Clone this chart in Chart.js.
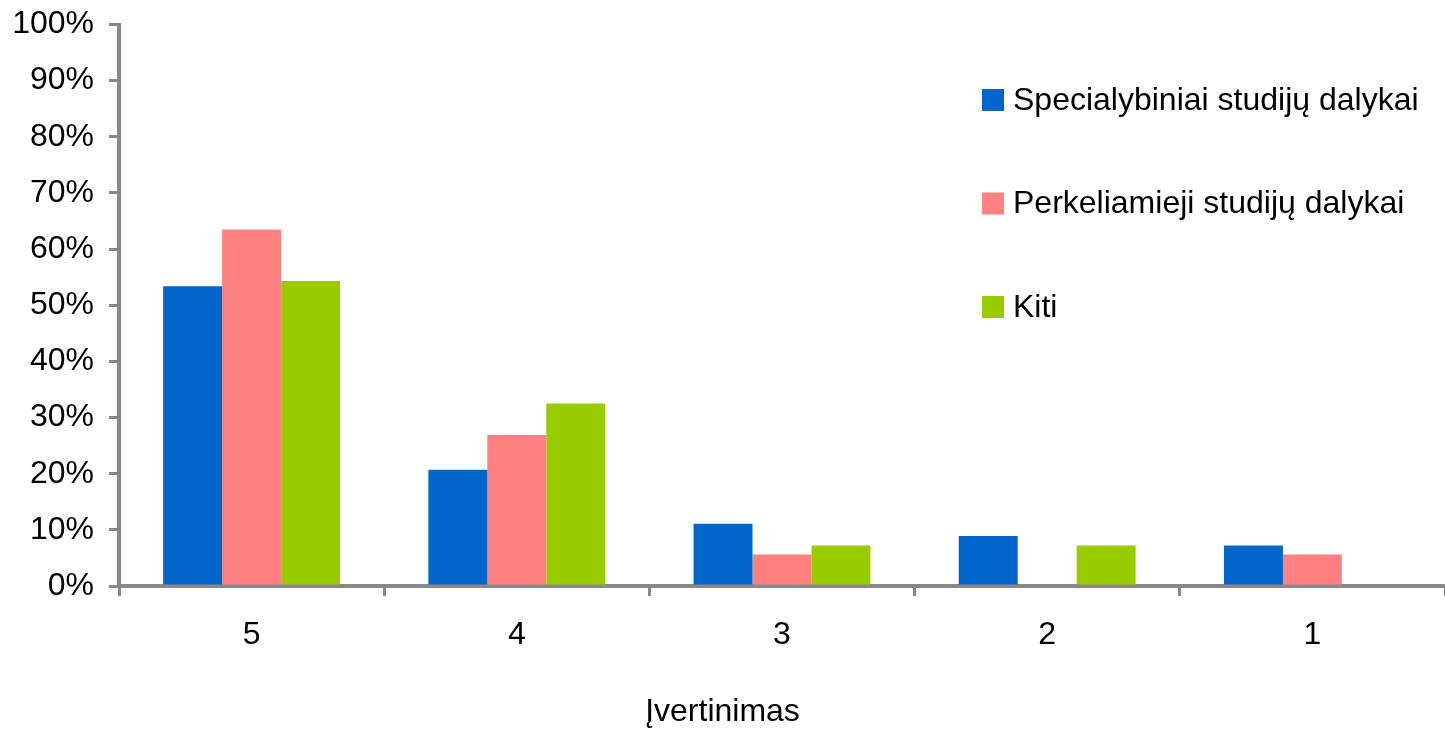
<!DOCTYPE html>
<html>
<head>
<meta charset="utf-8">
<script src="https://cdn.jsdelivr.net/npm/chart.js@4"></script>
<style>
  body { margin: 0; background: #fff; }
</style>
</head>
<body>
<canvas id="myChart" width="1445" height="732"></canvas>
<script>
// įvertinimai (kategorijos)
const categories = ['5', '4', '3', '2', '1'];
const seriesNames = ['Specialybiniai studijų dalykai', 'Perkeliamieji studijų dalykai', 'Kiti'];
const specialybiniai = [53.4, 20.7, 11.1, 8.9, 7.2];
const perkeliamieji = [63.5, 26.9, 5.6, 0, 5.6];
const kiti = [54.3, 32.5, 7.2, 7.2, 0];
const yTicks = [0, 10, 20, 30, 40, 50, 60, 70, 80, 90, 100];
const colors = ['#0066CC', '#FF8080', '#99CC00'];

Chart.defaults.font.family = '"Liberation Sans", Arial, sans-serif';
Chart.defaults.font.size = 32;
Chart.defaults.color = '#000';

// legenda piešiama ranka, grafiko viduje dešinėje
const sideLegend = {
    id: 'sideLegend',
    afterDraw(chart) {
        const ctx = chart.ctx;
        ctx.save();
        ctx.font = '32px "Liberation Sans", Arial, sans-serif';
        ctx.textBaseline = 'middle';
        chart.data.datasets.forEach((ds, i) => {
            const y = 100 + i * 103.5;
            ctx.fillStyle = ds.backgroundColor;
            ctx.fillRect(982, y - 11, 22, 22);
            ctx.fillStyle = '#000';
            ctx.fillText(ds.label, 1013, y + 1);
        });
        ctx.restore();
    }
};

const data = {
    labels: categories,
    datasets: [
        { label: seriesNames[0], data: specialybiniai, backgroundColor: colors[0] },
        { label: seriesNames[1], data: perkeliamieji, backgroundColor: colors[1] },
        { label: seriesNames[2], data: kiti, backgroundColor: colors[2] }
    ]
};

const config = {
    type: 'bar',
    data: data,
    options: {
        responsive: false,
        animation: false,
        devicePixelRatio: 1,
        layout: { padding: { top: 24.5, right: 0, bottom: 1, left: 0 } },
        datasets: {
            bar: { categoryPercentage: 0.667, barPercentage: 1.0, borderWidth: 0 }
        },
        plugins: {
            legend: { display: false },
            tooltip: { enabled: false },
            title: {
                display: true,
                position: 'bottom',
                text: 'Įvertinimas',
                font: { size: 32, weight: 'normal' },
                color: '#000',
                padding: 0
            }
        },
        scales: {
            x: {
                grid: {
                    display: true, drawOnChartArea: false, drawTicks: true,
                    tickLength: 10, color: '#888', lineWidth: 3, offset: true
                },
                border: { color: '#888', width: 4 },
                ticks: { padding: 20, color: '#000', maxRotation: 0 },
                afterFit(scale) { scale.height = 106.6; }
            },
            y: {
                min: 0,
                max: 100,
                afterBuildTicks(scale) { scale.ticks = yTicks.map(v => ({ value: v })); },
                grid: {
                    display: true, drawOnChartArea: false, drawTicks: true,
                    tickLength: 10, color: '#888', lineWidth: 3
                },
                border: { color: '#888', width: 4 },
                ticks: {
                    padding: 15,
                    color: '#000',
                    callback: v => v + '%'
                },
                afterFit(scale) {
                    scale.width = 119;
                    scale.paddingTop = 0;
                    scale.paddingBottom = 0;
                }
            }
        }
    },
    plugins: [sideLegend]
};

const myChart = new Chart(document.getElementById('myChart'), config);
</script>
</body>
</html>
